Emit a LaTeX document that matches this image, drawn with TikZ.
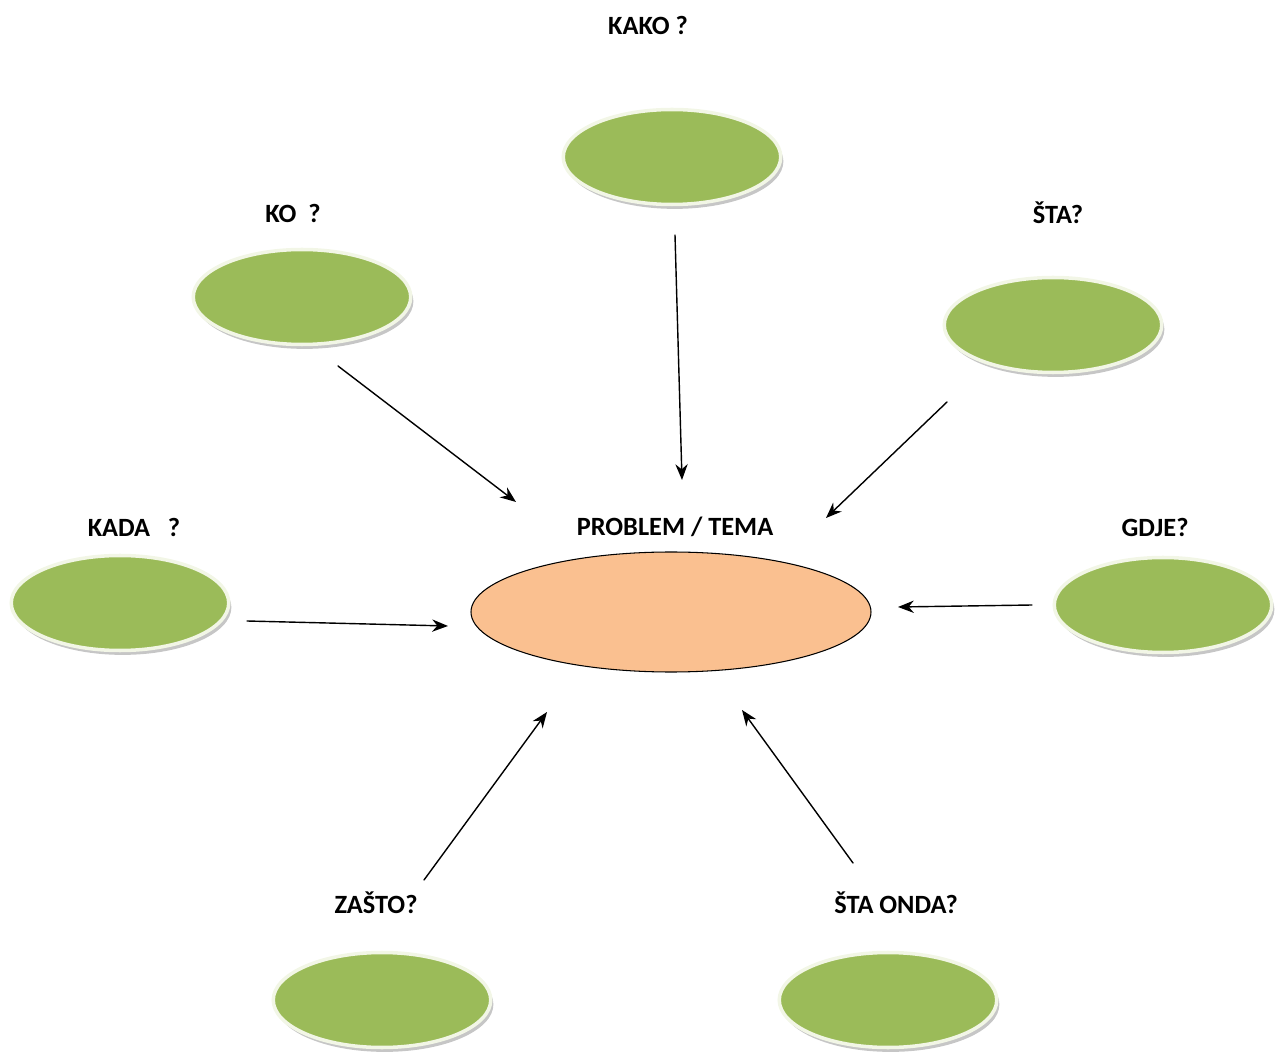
\documentclass[tikz,border=0pt]{standalone}
\usepackage{fontspec}
\setmainfont{Carlito}
\usepackage{tkz-euclide}
\usetikzlibrary{arrows.meta,shapes.geometric,shadows}
\definecolor{LeafClr}{RGB}{155,187,89}
\definecolor{RimClr}{RGB}{242,246,230}
\definecolor{CoreClr}{RGB}{250,192,144}

\begin{document}
\begin{tikzpicture}[
  leaf/.style={ellipse,fill=LeafClr,draw=RimClr,line width=2pt,inner sep=0pt,
    minimum width=4.35cm,minimum height=1.9cm,
    drop shadow={shadow xshift=1.5pt,shadow yshift=-2.5pt,opacity=.45,fill=gray}},
  core/.style={ellipse,fill=CoreClr,draw=black,line width=.6pt,inner sep=0pt,
    minimum width=8cm,minimum height=2.4cm},
  qlabel/.style={font=\bfseries\fontsize{15}{17}\selectfont,inner sep=1pt}]
\useasboundingbox (0,0) rectangle (25.6,21.12);
\tkzSetUpLine[line width=.8pt,color=black]

\node[leaf] (kako) at (13.44,17.98) {};
\node[leaf] (ko) at (6.04,15.18) {};
\node[leaf] (sta) at (21.06,14.62) {};
\node[leaf] (kada) at (2.40,9.06) {};
\node[leaf] (gdje) at (23.26,9.02) {};
\node[leaf] (zasto) at (7.64,1.12) {};
\node[leaf] (staonda) at (17.76,1.12) {};
\node[core] (tema) at (13.42,8.88) {};

\node[qlabel] (kakoL) at (12.96,20.62) {KAKO ?};
\node[qlabel] (koL) at (5.86,16.86) {KO\ \ ?};
\node[qlabel] (staL) at (21.16,16.86) {ŠTA?};
\node[qlabel] (kadaL) at (2.68,10.58) {KADA\ \ \ ?};
\node[qlabel] (gdjeL) at (23.10,10.58) {GDJE?};
\node[qlabel] (temaL) at (13.50,10.58) {PROBLEM / TEMA};
\node[qlabel] (zastoL) at (7.52,3.06) {ZAŠTO?};
\node[qlabel] (staondaL) at (17.92,3.06) {ŠTA ONDA?};

\tkzDefPoint(13.50,16.42){KAs} \tkzDefPoint(13.64,11.52){KAe}
\tkzDefPoint(6.76,13.80){KOs} \tkzDefPoint(10.32,11.08){KOe}
\tkzDefPoint(18.94,13.08){STs} \tkzDefPoint(16.52,10.76){STe}
\tkzDefPoint(4.94,8.70){KDs} \tkzDefPoint(8.96,8.60){KDe}
\tkzDefPoint(20.64,9.02){GDs} \tkzDefPoint(17.96,8.98){GDe}
\tkzDefPoint(8.48,3.52){ZAs} \tkzDefPoint(10.94,6.88){ZAe}
\tkzDefPoint(17.06,3.86){SOs} \tkzDefPoint(14.84,6.92){SOe}

\tkzDrawSegments[-{Stealth[length=9pt,width=7pt]}](KAs,KAe KOs,KOe STs,STe KDs,KDe GDs,GDe ZAs,ZAe SOs,SOe)

\end{tikzpicture}
\end{document}
